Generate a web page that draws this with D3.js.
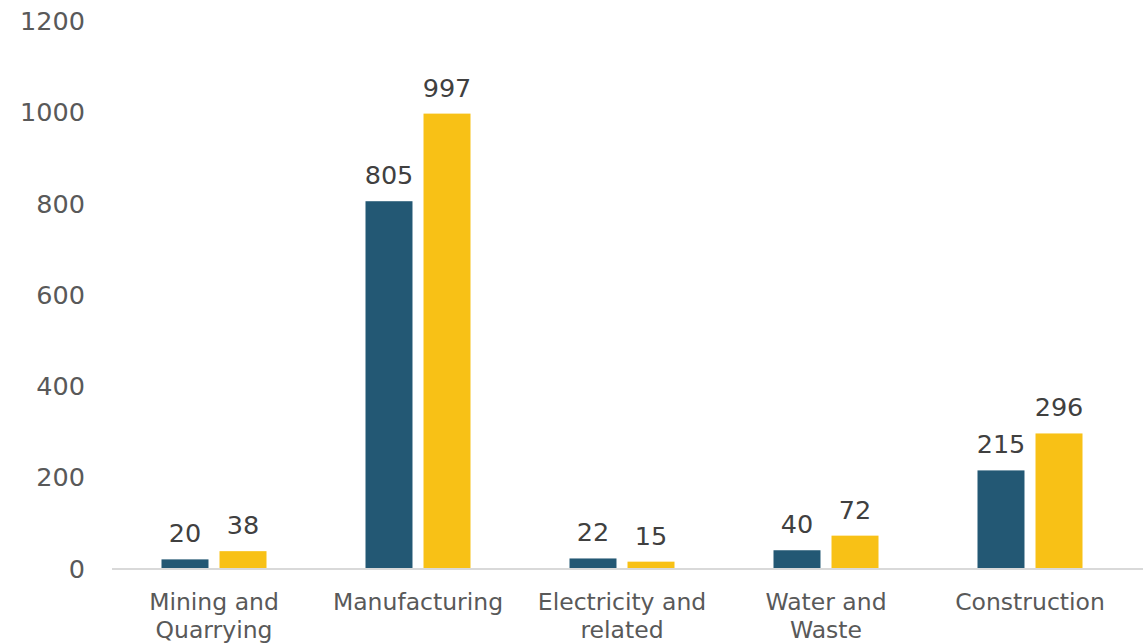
<!DOCTYPE html>
<html>
<head>
<meta charset="utf-8">
<script src="https://cdn.jsdelivr.net/npm/d3@7"></script>
<style>
  body { margin: 0; background: #fff; }
  svg text { font-family: "DejaVu Sans", Verdana, sans-serif; }
</style>
</head>
<body>
<div id="chart"></div>
<script>
var categories = ["Mining and Quarrying", "Manufacturing", "Electricity and related", "Water and Waste", "Construction"];
var category_lines = [["Mining and", "Quarrying"], ["Manufacturing"], ["Electricity and", "related"], ["Water and", "Waste"], ["Construction"]];
var series_a = [20, 805, 22, 40, 215];
var series_b = [38, 997, 15, 72, 296];
var y_ticks = [0, 200, 400, 600, 800, 1000, 1200];

var width = 1143, height = 643;
var margin = {top: 21, right: 11, bottom: 74.5, left: 112};

var svg = d3.select("#chart")
    .append("svg")
    .attr("width", width)
    .attr("height", height);

var g = svg.append("g")
    .attr("transform", "translate(" + margin.left + "," + margin.top + ")");

var w = width - margin.left - margin.right;
var h = height - margin.top - margin.bottom;

var x = d3.scaleBand()
    .domain(categories)
    .range([0, w])
    .paddingInner(0)
    .paddingOuter(0);

var y = d3.scaleLinear()
    .domain([0, 1200])
    .range([h, 0]);

// bars inside each category band
var x_inner = d3.scaleBand()
    .domain(["a", "b"])
    .range([49.5, x.bandwidth() - 49.5])
    .paddingInner(0.19);

var colors = {a: "#235874", b: "#F8C116"};

// y axis labels only
g.selectAll(".ytick")
    .data(y_ticks)
    .enter()
    .append("text")
    .attr("x", -27)
    .attr("y", function(d) { return y(d); })
    .attr("dy", "0.36em")
    .attr("text-anchor", "end")
    .attr("fill", "#595959")
    .style("font-size", "25.5px")
    .text(function(d) { return d; });

var rows = [];
for (var i = 0; i < categories.length; i++) {
    rows.push({cat: categories[i], key: "a", value: series_a[i]});
    rows.push({cat: categories[i], key: "b", value: series_b[i]});
}

g.selectAll(".bar")
    .data(rows)
    .enter()
    .append("rect")
    .attr("x", function(d) { return x(d.cat) + x_inner(d.key); })
    .attr("y", function(d) { return y(d.value); })
    .attr("width", x_inner.bandwidth())
    .attr("height", function(d) { return h - y(d.value); })
    .attr("fill", function(d) { return colors[d.key]; });

// axis line
g.append("line")
    .attr("x1", 0)
    .attr("x2", w + margin.right)
    .attr("y1", h + 0.5)
    .attr("y2", h + 0.5)
    .attr("stroke", "#D9D9D9")
    .attr("stroke-width", 2);

// value labels
g.selectAll(".vlabel")
    .data(rows)
    .enter()
    .append("text")
    .attr("x", function(d) { return x(d.cat) + x_inner(d.key) + x_inner.bandwidth() / 2; })
    .attr("y", function(d) { return y(d.value) - 17; })
    .attr("text-anchor", "middle")
    .attr("fill", "#404040")
    .style("font-size", "25.5px")
    .text(function(d) { return d.value; });

// category labels
var cat_g = g.selectAll(".cat")
    .data(categories)
    .enter()
    .append("text")
    .attr("text-anchor", "middle")
    .attr("fill", "#595959")
    .style("font-size", "23.5px")
    .attr("transform", function(d) {
        return "translate(" + (x(d) + x.bandwidth() / 2) + "," + (h + 41) + ")";
    });

cat_g.each(function(d, i) {
    var t = d3.select(this);
    category_lines[i].forEach(function(line, j) {
        t.append("tspan")
            .attr("x", 0)
            .attr("y", j * 28)
            .text(line);
    });
});
</script>
</body>
</html>
